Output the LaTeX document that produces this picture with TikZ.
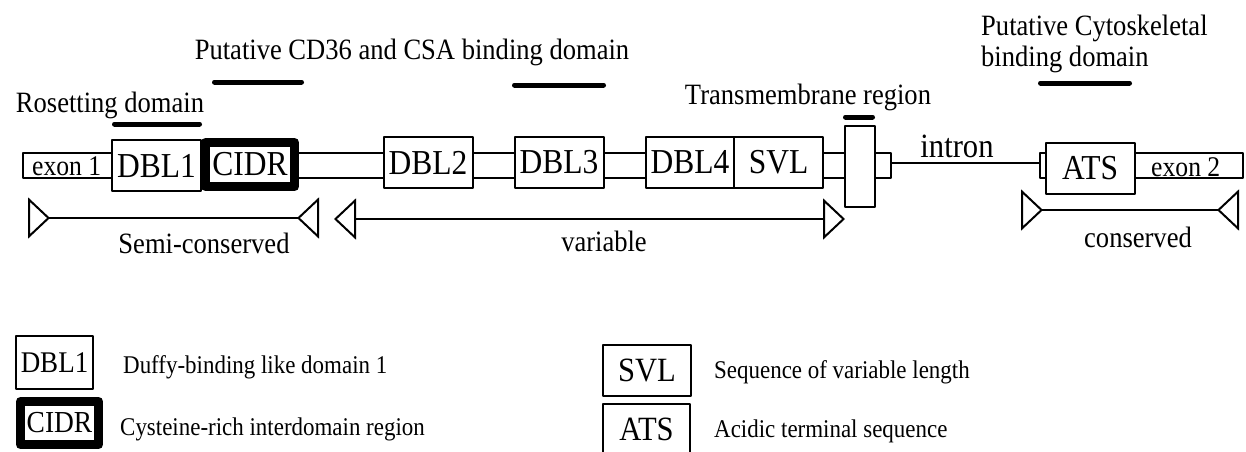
\documentclass[tikz,border=0pt]{standalone}
\usepackage{fontspec}
\setmainfont[FakeStretch=0.9]{Liberation Serif}
\usetikzlibrary{arrows.meta}
\tikzset{
	domainbox/.style={draw, line width=2pt, fill=white, inner sep=0pt, minimum width=89pt, minimum height=51pt, font=\fontsize{35}{40}\selectfont},
	cidrbox/.style={draw, line width=9pt, line join=round, fill=white, inner sep=0pt, minimum width=89pt, minimum height=44pt, font=\fontsize{35}{40}\selectfont},
	annot/.style={inner sep=0pt, font=\fontsize{29.5}{31}\selectfont},
	legendtxt/.style={inner sep=0pt, anchor=base west, font=\fontsize{25.5}{28}\selectfont},
	genebar/.style={draw, line width=2pt, fill=white},
	domainbar/.style={line width=5pt, line cap=round},
	span/.style={line width=2pt},
	tipin/.tip={Triangle[open, reversed, length=22pt, width=41pt]},
	tipout/.tip={Triangle[open, length=22pt, width=41pt]}
}
\begin{document}
\begin{tikzpicture}[x=1pt, y=-1pt, line join=round]
	\useasboundingbox (0,0) rectangle (1246,451);
	\path
	(23,153) coordinate (G1)
	(891,178) coordinate (G2)
	(891,163) coordinate (I1)
	(1040,163) coordinate (I2)
	(1040,153) coordinate (E1)
	(1243,178) coordinate (E2)
	(28,218) coordinate (S1)
	(319,218) coordinate (S2)
	(334,219) coordinate (V1)
	(845,219) coordinate (V2)
	(1021,210) coordinate (C1)
	(1239,210) coordinate (C2)
	;
	
	% gene
	\draw[genebar] (G1) rectangle (G2) (E1) rectangle (E2);
	\draw[line width=2pt] (I1)--(I2);
	\foreach \n/\x/\y/\t in {dbl1/156.5/165.5/DBL1, dbl2/428/162.5/DBL2, dbl3/559/162.5/DBL3, dbl4/690/162.5/DBL4, svl/778.5/162.5/SVL, ats/1090/168/ATS}
	\node[domainbox] (\n) at (\x,\y) {\t};
	\node[cidrbox] (cidr) at (250,164.5) {CIDR};
	\node[domainbox, minimum width=30pt, minimum height=81pt] (tm) at (860,166.5) {};
	\node[annot, anchor=base west, font=\fontsize{28.5}{30}\selectfont] (exon1) at (32,175) {exon 1};
	\node[annot, anchor=base west, font=\fontsize{28.5}{30}\selectfont] (exon2) at (1151,176) {exon 2};
	\node[annot, anchor=base, font=\fontsize{34}{36}\selectfont] (intron) at (957,157) {intron};
	
	% domains
	\foreach \a/\b/\y in {114.5/199.5/124, 214.5/301.5/82, 514.5/603.5/85, 845.5/872.5/117, 1040.5/1129.5/83}
	\draw[domainbar] (\a,\y)--(\b,\y);
	\node[annot, anchor=base] (roset) at (110,112) {Rosetting domain};
	\node[annot, anchor=base] (cd36) at (412,59) {Putative CD36 and CSA binding domain};
	\node[annot, anchor=base] (tmlab) at (808,104) {Transmembrane region};
	\node[annot, anchor=west, align=left] (cyto) at (981,44) {Putative Cytoskeletal\\binding domain};
	
	% spans
	\draw[span, tipin-tipin] (S1)--(S2);
	\draw[span, tipout-tipout] (V1)--(V2);
	\draw[span, tipin-tipin] (C1)--(C2);
	\node[annot, anchor=base] (semi) at (204,253) {Semi-conserved};
	\node[annot, anchor=base] (var) at (604,251) {variable};
	\node[annot, anchor=base] (cons) at (1138,247) {conserved};
	
	% legend
	\node[domainbox, minimum width=77pt, minimum height=53pt, font=\fontsize{30}{32}\selectfont] (keydbl) at (54.5,362.5) {DBL1};
	\node[cidrbox, minimum width=78pt, minimum height=43pt, font=\fontsize{30.5}{32}\selectfont] (keycidr) at (59.5,423) {CIDR};
	\node[domainbox, minimum width=88pt, font=\fontsize{34}{36}\selectfont] (keysvl) at (647,370.5) {SVL};
	\node[domainbox, minimum width=87pt, font=\fontsize{34}{36}\selectfont] (keyats) at (646.5,429.5) {ATS};
	\node[legendtxt] (txtdbl) at (123,373) {Duffy-binding like domain 1};
	\node[legendtxt] (txtcidr) at (120,435) {Cysteine-rich interdomain region};
	\node[legendtxt] (txtsvl) at (714,378) {Sequence of variable length};
	\node[legendtxt] (txtats) at (714,437) {Acidic terminal sequence};
\end{tikzpicture}
\end{document}
